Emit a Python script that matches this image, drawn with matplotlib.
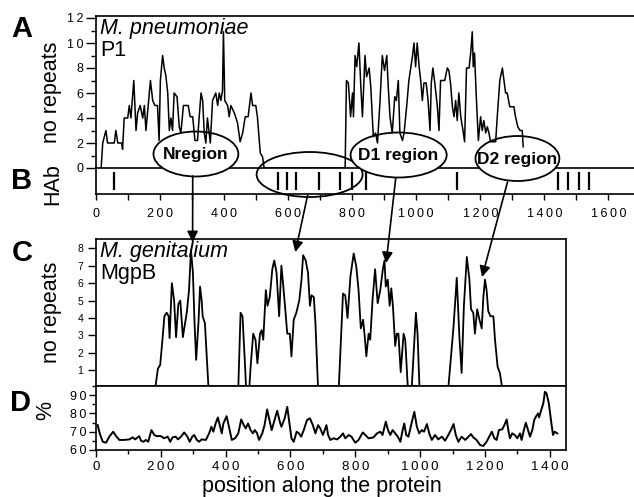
import matplotlib
matplotlib.use("Agg")
import matplotlib.pyplot as plt
from matplotlib.patches import Ellipse, ConnectionPatch
from matplotlib.ticker import MultipleLocator, FuncFormatter

plt.rcParams["font.family"] = ["Liberation Sans", "DejaVu Sans"]

# Panel A: M. pneumoniae P1, number of repeats along the protein
p1_pos = [16, 21, 31, 36, 57, 62, 68, 80, 83, 88, 99, 104, 109, 118, 125, 130, 138, 146, 151,
          156, 170, 177, 184, 192, 197, 201, 208, 213, 218, 224, 229, 234, 239, 244, 253, 260,
          265, 273, 288, 294, 302, 309, 317, 322, 328, 333, 338, 343, 348, 357, 364, 374, 380,
          385, 390, 395, 398, 402, 411, 416, 421, 432, 442, 450, 458, 466, 475, 484, 489, 499,
          504, 513, 520, 525, 778, 782, 788, 795, 801, 804, 809, 814, 821, 827, 832, 840, 845,
          853, 858, 866, 873, 879, 887, 894, 901, 908, 912, 918, 925, 933, 938, 944, 949, 957,
          962, 970, 977, 988, 993, 998, 1003, 1009, 1014, 1019, 1024, 1031, 1037, 1043, 1047,
          1052, 1058, 1066, 1071, 1076, 1081, 1089, 1097, 1102, 1107, 1113, 1118, 1123, 1128,
          1133, 1139, 1146, 1151, 1157, 1165, 1170, 1175, 1178, 1182, 1187, 1194, 1201, 1206,
          1211, 1217, 1222, 1227, 1232, 1248, 1253, 1261, 1269, 1274, 1279, 1284, 1292, 1305,
          1310, 1317, 1324, 1331, 1334]
p1_rep = [0, 2, 3, 2, 2, 3, 2, 2, 1.5, 4, 4, 5, 4, 7, 3, 4.4, 5, 4, 5,
          3, 7, 5.4, 5, 5, 2.2, 7, 9, 8, 7.4, 6, 3, 4, 3, 6, 5.7, 3.3,
          2.8, 5, 5, 4.1, 4.1, 2.2, 2.2, 4, 6, 5.4, 2.8, 2, 4, 2, 5.4, 6, 5,
          6, 5.4, 6.2, 10.9, 5.4, 5, 4.1, 5, 4.4, 3.6, 2.1, 2.8, 4.1, 4.1, 6, 5, 5,
          4.1, 1.2, 0.9, 0, 0, 7, 6.8, 4.1, 6, 4.1, 9, 8.1, 10, 6.5, 4.1, 9, 7.3,
          8, 6.5, 2.5, 2.8, 2, 5.4, 9, 7.8, 9, 6.8, 4.1, 2.8, 5.7, 5.4, 7, 2.8, 2.2,
          2.8, 4.9, 7, 8.9, 10, 8.1, 10, 8.1, 7, 5.4, 6.8, 6.8, 5.4, 3, 6.8,
          8, 6.8, 4.9, 3, 7, 7, 7, 8, 7.8, 6.8, 4.9, 4.1, 5.4, 3.8,
          6, 4.1, 3, 2.1, 8, 8, 9.2, 10.9, 8.1, 9.2, 6, 2.2, 4.1, 3,
          3.8, 2.8, 3.3, 2.8, 2.1, 2.1, 4.1, 7, 8, 7, 6, 6, 4.9, 4.9,
          4.1, 3.3, 3, 3, 1.7]

# Panel B: HAb epitope positions
hab_pos = [56, 568, 596, 624, 696, 761, 798, 842, 1126, 1444, 1475, 1507, 1538]

# Panel C: M. genitalium MgpB, number of repeats
mgpb_pos = [183, 191, 198, 205, 211, 218, 224, 227, 234, 241, 247, 254, 260, 268, 273, 280, 287,
            293, 299, 304, 309, 316, 321, 326, 329, 336, 347, 439, 446, 452, 460, 463, 473, 477,
            485, 492, 498, 506, 511, 516, 524, 529, 536, 544, 550, 557, 565, 572, 577, 583, 590,
            598, 603, 610, 618, 627, 634, 639, 647, 654, 660, 665, 672, 677, 685, 749, 762, 769,
            776, 785, 795, 803, 810, 817, 824, 829, 834, 841, 846, 853, 861, 869, 877, 885, 890,
            894, 900, 906, 911, 916, 923, 928, 933, 940, 949, 954, 962, 974, 987, 992, 998, 1087,
            1103, 1113, 1121, 1128, 1135, 1144, 1152, 1157, 1164, 1169, 1176, 1183, 1190, 1195,
            1200, 1205, 1210, 1217, 1226, 1231, 1239, 1246, 1253]
mgpb_rep = [0, 1.1, 1.3, 2.75, 4.1, 4.3, 4.1, 2.85, 6.0, 5.0, 2.9, 4.8, 5.0, 2.9, 3.5, 4.3, 5.6,
            7.9, 6.6, 3.7, 1.6, 3.7, 5.8, 5.0, 4.1, 3.7, 0, 0, 4.3, 4.1, 1.2, 0, 0, 1.2,
            3.1, 2.75, 1.4, 3.1, 3.3, 2.75, 5.6, 4.7, 5.2, 6.8, 7.3, 6.6, 4.1, 7.0, 6.0, 4.7, 3.1,
            3.1, 1.8, 3.9, 4.3, 5.0, 6.2, 7.6, 7.3, 6.6, 4.7, 5.3, 5.2, 3.7, 0, 0, 5.4, 5.3,
            4.0, 6.4, 7.7, 6.95, 5.6, 3.4, 3.9, 2.95, 1.8, 3.1, 2.75, 5.0, 6.8, 4.85, 5.6, 6.8, 7.3,
            5.8, 6.2, 4.7, 5.7, 4.7, 2.4, 3.1, 3.1, 0.9, 3.1, 2.75, 0, 0, 4.3, 3.1, 0, 0,
            3.5, 6.3, 2.95, 0.85, 4.7, 7.5, 6.2, 4.5, 4.3, 3.1, 4.5, 3.9, 3.4, 5.2,
            6.2, 5.6, 4.4, 4.1, 4.1, 2.75, 1.2, 0.85, 0]

# Panel D: percentage along the protein
pct_pos = [5, 13, 21, 31, 41, 53, 62, 72, 87, 103, 113, 121, 133, 139, 146, 154, 161, 171, 180,
           187, 200, 210, 221, 229, 236, 246, 253, 262, 272, 282, 289, 297, 303, 311, 318, 326,
           339, 349, 356, 362, 369, 376, 383, 388, 393, 403, 410, 419, 429, 439, 448, 456, 462,
           469, 477, 484, 490, 497, 503, 513, 520, 528, 535, 542, 551, 559, 567, 572, 582, 590,
           597, 603, 610, 619, 626, 633, 641, 651, 660, 669, 677, 685, 692, 700, 711, 716, 723,
           733, 744, 754, 762, 769, 780, 788, 800, 810, 823, 831, 841, 856, 867, 877, 884, 894,
           901, 908, 915, 923, 931, 939, 946, 951, 957, 964, 971, 982, 990, 997, 1005, 1012,
           1021, 1028, 1036, 1046, 1056, 1067, 1077, 1087, 1095, 1103, 1110, 1118, 1128, 1139,
           1149, 1157, 1164, 1174, 1185, 1195, 1205, 1213, 1221, 1229, 1236, 1243, 1253, 1260,
           1267, 1272, 1277, 1284, 1292, 1300, 1308, 1313, 1320, 1326, 1333, 1339, 1346, 1352,
           1357, 1364, 1367, 1372, 1380, 1385, 1390, 1397, 1405, 1410, 1415, 1423]
pct_val = [73.6, 68.2, 64.5, 64, 67.3, 70, 67.6, 65.5, 65.5, 65.8, 66.9, 65.8, 67.6, 65.1, 64.5,
           65.5, 64.5, 70.9, 68.2, 67.6, 67.6, 66.4, 67.3, 64.5, 66.9, 67.3, 65.8, 67.3, 69.6,
           67.3, 64.5, 67.3, 68.2, 65.5, 64.5, 65.8, 65.5, 69.1, 72.7, 70, 74.5, 77.8, 72.7,
           69.1, 74.5, 78.5, 72.7, 65.5, 66.4, 69.1, 76.7, 73.6, 71.8, 74.5, 70.9, 69.1, 70.9,
           69.1, 65.5, 69.1, 73.6, 82.2, 76.4, 70.9, 76.4, 81.5, 75.5, 72.7, 77.3, 83.6, 74.5,
           66.4, 64.5, 70, 69.1, 67.3, 70.9, 76.4, 77.3, 73.6, 69.1, 73.6, 71.8, 68.2, 73.6,
           68.2, 65.5, 66.4, 65.8, 67.3, 69.1, 66.4, 68.2, 67.3, 64, 65.5, 69.6, 68.2, 66.4,
           66.9, 69.1, 70, 68.2, 75.5, 70.9, 68.2, 70.9, 69.1, 67.3, 64.5, 70.9, 74.5, 68.2,
           67.3, 72.7, 80.9, 72.7, 69.1, 70.9, 70, 74.2, 69.1, 65.5, 68.2, 65.8, 67.3, 65.1,
           68.2, 70.9, 74.2, 68.2, 64.5, 67.3, 65.5, 67.3, 68.7, 66.9, 65.5, 62.7, 62.2, 64.5,
           67.3, 70, 66.4, 65.5, 70.9, 71.3, 73.6, 76.7, 70.9, 66.4, 69.1, 68.2, 66.4, 69.1,
           65.5, 70.9, 74.9, 70.9, 67.3, 70.9, 76.4, 78.2, 80, 77.8, 80.9, 85.5, 91.8, 90.9,
           85.5, 74.5, 68.2, 70, 69.1]

# Labelled regions (centre x, centre y in panel A units) and arrows to panel C
region_names = ["Nregion", "", "D1 region", "D2 region"]
region_x = [312, 667, 945, 1316]
region_y = [1.12, -0.52, 1.04, 0.76]
region_w = [265, 331, 300, 262]
arrow_from = [(302, -0.64), (661, -2.16), (936, -0.8), (1285, -1.12)]
arrow_to = [(298, 8.35), (615, 7.78), (895, 7.15), (1191, 6.35)]

W, H = 634, 497


def box(left, top, right, bottom):
    return [left / W, 1 - bottom / H, (right - left) / W, (bottom - top) / H]


def spaced(v, pos):
    return "\u2009".join(str(int(round(v))))


fig = plt.figure(figsize=(W / 100, H / 100), dpi=100)

axB = fig.add_axes(box(96, 168, 634, 194))
axA = fig.add_axes(box(96, 16, 634, 168))
axC = fig.add_axes(box(96, 239, 566, 386))
axD = fig.add_axes(box(96, 386, 566, 450))

for ax in (axA, axB, axC, axD):
    for s in ax.spines.values():
        s.set_linewidth(1.2)
    ax.tick_params(which="both", width=1.0, direction="out")

# --- A ---
axA.plot(p1_pos, p1_rep, color="black", lw=1.1, zorder=4)
axA.set_xlim(0, 1680)
axA.set_ylim(0, 12.16)
axA.spines["right"].set_visible(False)
axA.yaxis.set_major_locator(MultipleLocator(2))
axA.yaxis.set_minor_locator(MultipleLocator(1))
axA.yaxis.set_major_formatter(FuncFormatter(spaced))
axA.tick_params(axis="y", which="major", length=7, pad=2, labelsize=9)
axA.tick_params(axis="y", which="minor", length=3.5)
axA.tick_params(axis="x", which="both", bottom=False, labelbottom=False)
axA.set_ylabel("no repeats", fontsize=15.5)
axA.yaxis.set_label_coords(-0.063, 0.5)
axA.text(0.008, 0.985, "M. pneumoniae", style="italic", fontsize=15.5,
         transform=axA.transAxes, ha="left", va="top")
axA.text(0.008, 0.845, "P1", fontsize=15.5, transform=axA.transAxes, ha="left", va="top")

for name, cx, cy, w in zip(region_names, region_x, region_y, region_w):
    face = "white" if name else "none"
    e = Ellipse((cx, cy), w, 3.6, facecolor=face, edgecolor="black", lw=1.3,
                clip_on=False, zorder=3)
    axA.add_patch(e)
    if name:
        axA.text(cx, cy - 0.05, name, ha="center", va="center", fontsize=12.5,
                 fontweight="bold", zorder=5, clip_on=False)

# --- B ---
axB.vlines(hab_pos, 0.15, 0.85, color="black", lw=1.6)
axB.set_xlim(0, 1680)
axB.set_ylim(0, 1)
axB.patch.set_visible(False)
axB.spines["top"].set_visible(False)
axB.spines["right"].set_visible(False)
axB.set_yticks([])
axB.xaxis.set_major_locator(MultipleLocator(200))
axB.xaxis.set_minor_locator(MultipleLocator(100))
axB.xaxis.set_major_formatter(FuncFormatter(spaced))
axB.tick_params(axis="x", which="both", length=4, pad=6, labelsize=9)
axB.set_ylabel("HAb", fontsize=15.5)
axB.yaxis.set_label_coords(-0.061, 0.38)

# --- C ---
axC.plot(mgpb_pos, mgpb_rep, color="black", lw=1.3)
axC.set_xlim(0, 1450)
axC.set_ylim(0.1, 8.53)
axC.set_yticks(range(1, 9))
axC.tick_params(axis="y", length=6, pad=3, labelsize=7.5)
axC.tick_params(axis="x", which="both", bottom=False, labelbottom=False)
axC.set_ylabel("no repeats", fontsize=15.5)
axC.yaxis.set_label_coords(-0.072, 0.5)
axC.text(0.008, 0.985, "M. genitalium", style="italic", fontsize=15.5,
         transform=axC.transAxes, ha="left", va="top")
axC.text(0.008, 0.84, "MgpB", fontsize=15.5, transform=axC.transAxes, ha="left", va="top")

# --- D ---
axD.plot(pct_pos, pct_val, color="black", lw=1.4)
axD.set_xlim(0, 1450)
axD.set_ylim(60, 95)
axD.yaxis.set_major_locator(MultipleLocator(10))
axD.yaxis.set_minor_locator(MultipleLocator(5))
axD.yaxis.set_major_formatter(FuncFormatter(spaced))
axD.xaxis.set_major_locator(MultipleLocator(200))
axD.xaxis.set_minor_locator(MultipleLocator(100))
axD.xaxis.set_major_formatter(FuncFormatter(spaced))
axD.tick_params(which="major", length=5, pad=2, labelsize=9)
axD.tick_params(which="minor", length=3)
axD.tick_params(axis="x", labelsize=9.5, pad=3)
axD.set_ylabel("%", fontsize=15.5)
axD.yaxis.set_label_coords(-0.085, 0.62)
axD.set_xlabel("position along the protein", fontsize=15.5)
axD.xaxis.set_label_coords(0.48, -0.40)
axD.xaxis.label.set_va("top")

# arrows from the regions in A to the peaks in C
for start, end in zip(arrow_from, arrow_to):
    con = ConnectionPatch(xyA=start, coordsA=axA.transData, xyB=end, coordsB=axC.transData,
                          arrowstyle="-|>", mutation_scale=16, lw=1.2, color="black",
                          shrinkA=0, shrinkB=0)
    fig.add_artist(con)

# panel letters
for letter, (x, y) in zip("ABCD", [(22, 29), (22, 181), (22, 253), (21, 403)]):
    fig.text(x / W, 1 - y / H, letter, fontsize=21, fontweight="bold",
             ha="center", va="center")

fig.savefig("out.png", dpi=100)
